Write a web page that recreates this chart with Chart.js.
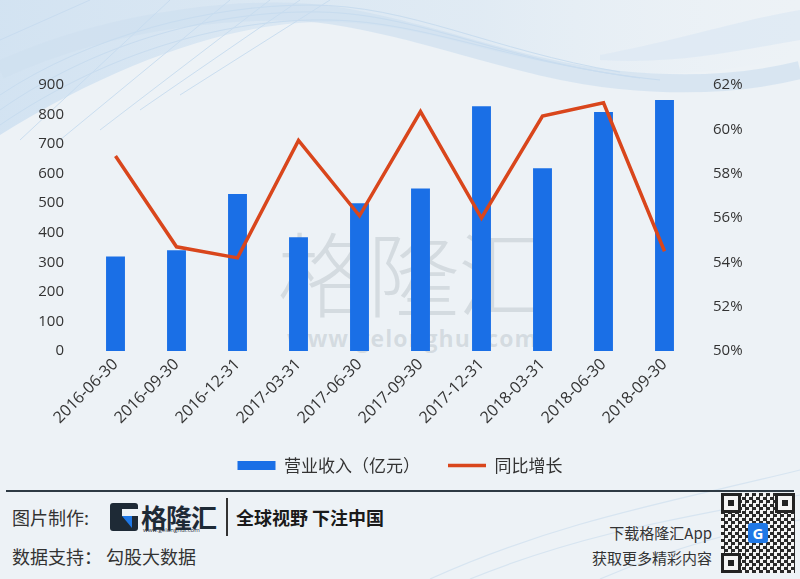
<!DOCTYPE html>
<html><head><meta charset="utf-8">
<script src="https://cdn.jsdelivr.net/npm/chart.js@4"></script>
<style>
html,body{margin:0;padding:0;}
body{width:800px;height:579px;position:relative;overflow:hidden;background:#edf2f6;font-family:"Noto Sans CJK SC","Noto Sans",sans-serif;}
#bg{position:absolute;left:0;top:0;}
#wrap{position:absolute;left:0;top:0;width:800px;height:484px;}
#wm{position:absolute;left:270px;top:216px;width:285px;text-align:center;pointer-events:none;color:rgba(140,150,160,0.25);}
#wm .big{font-size:92px;line-height:108px;font-weight:300;letter-spacing:-2px;font-family:"Noto Sans CJK SC";}
#wm .url{font-size:23px;line-height:24px;font-weight:700;font-family:"Open Sans";letter-spacing:1px;margin-top:2px;}
#sep{position:absolute;left:6px;top:490px;width:788px;height:2px;background:#2e3a44;}
.ft{position:absolute;color:#333;white-space:nowrap;font-family:"Noto Sans CJK SC";}
#logo{position:absolute;left:110px;top:503px;width:28px;height:28px;background:#1e2a36;border-radius:3px;}
#logo:after{content:"";position:absolute;left:12px;top:6px;width:16px;height:7px;background:#edf2f6;}
#logo:before{content:"";position:absolute;left:12px;top:13px;width:0;height:0;border-left:10px solid transparent;border-top:12px solid #1f78e6;}
#div{position:absolute;left:226px;top:498px;width:1.5px;height:38px;background:#333;}
#qr{position:absolute;left:721px;top:493px;width:74px;height:80px;
 background:repeating-conic-gradient(#2a2a2a 0 25%, #f4f4f4 0 50%) 0 0/7px 7px;}
.fd{position:absolute;width:14px;height:14px;border:3px solid #222;background:#f4f4f4;box-shadow:inset 0 0 0 3px #f4f4f4;}
.fd:after{content:"";position:absolute;left:4px;top:4px;width:6px;height:6px;background:#222;}
#qg{position:absolute;left:27px;top:30px;width:20px;height:20px;background:#1f78e6;border-radius:3px;color:#fff;font:bold 15px/20px "Open Sans";text-align:center;}
</style></head>
<body>
<svg id="bg" width="800" height="579" viewBox="0 0 800 579">
 <defs>
  <linearGradient id="g1" x1="0" y1="0" x2="1" y2="0">
   <stop offset="0" stop-color="#bcd6ee" stop-opacity="0.9"/>
   <stop offset="0.6" stop-color="#cfe1f1" stop-opacity="0.7"/>
   <stop offset="1" stop-color="#e3edf6" stop-opacity="0"/>
  </linearGradient>
 </defs>
 <path d="M0,0 L0,135 C120,60 240,20 330,22 C420,24 470,50 560,65 C650,80 720,75 800,55 L800,0 Z" fill="url(#g1)" opacity="0.6"/>
 <path d="M0,70 C120,15 260,5 330,15 C430,30 520,70 620,80 C700,88 760,80 800,70" fill="none" stroke="#cfe0f0" stroke-width="18" opacity="0.7"/>
 <g fill="none" stroke="#c7dcef" stroke-width="1" opacity="0.9">
  <path d="M0,110 C100,40 220,10 320,12 C420,14 500,60 640,78"/>
  <path d="M0,125 C110,50 230,18 330,20 C430,22 510,64 660,80"/>
  <path d="M0,95 C90,35 210,5 310,5 C410,5 490,50 620,72"/>
  <path d="M20,140 L170,0"/><path d="M60,140 L230,0"/><path d="M100,130 L270,0"/>
  <path d="M0,40 L90,0"/><path d="M140,110 L300,0"/><path d="M180,95 L330,0"/>
 </g>
 <path d="M600,55 C680,40 740,20 800,10 L800,40 C740,50 680,65 600,60 Z" fill="#dde9f4" opacity="0.8"/>
 <g fill="none" stroke="#d2e2f0" stroke-width="1.2" opacity="0.8">
  <path d="M430,579 C560,520 680,500 800,470"/><path d="M470,579 C590,530 700,515 800,495"/>
  <path d="M600,579 C680,545 740,530 800,520"/>
 </g>
</svg>
<div id="wm"><div class="big">格隆汇</div><div class="url">www.gelonghui.com</div></div>
<div id="wrap"><canvas id="c" width="800" height="484"></canvas></div>
<div id="sep"></div>
<div class="ft" style="left:12px;top:504px;font-size:18px;">图片制作:</div>
<div id="logo"></div>
<div class="ft" style="left:141px;top:498px;font-size:26px;font-weight:700;color:#1e2a36;letter-spacing:-1px;">格隆汇</div>
<div class="ft" style="left:143px;top:526px;font-size:6px;font-family:'Open Sans';color:#1e2a36;">www.gelonghui.com</div>
<div id="div"></div>
<div class="ft" style="left:236px;top:504px;font-size:18px;font-weight:700;color:#1a1a1a;">全球视野 下注中国</div>
<div class="ft" style="left:12px;top:543px;font-size:18px;">数据支持： 勾股大数据</div>
<div class="ft" style="right:88px;top:522px;font-size:15px;text-align:right;">下载格隆汇App</div>
<div class="ft" style="right:88px;top:547px;font-size:15px;text-align:right;">获取更多精彩内容</div>
<div id="qr"><div class="fd" style="left:0;top:0"></div><div class="fd" style="right:0;top:0"></div><div class="fd" style="left:0;bottom:0"></div><div id="qg">G</div></div>
<script>
const categories = ['2016-06-30','2016-09-30','2016-12-31','2017-03-31','2017-06-30','2017-09-30','2017-12-31','2018-03-31','2018-06-30','2018-09-30'];
const revenue = [320, 341, 531, 385, 500, 550, 828, 618, 809, 849];
const growth = [58.8, 54.7, 54.2, 59.5, 56.1, 60.8, 56.0, 60.6, 61.2, 54.5];
const revenueLabel = '营业收入（亿元）';
const growthLabel = '同比增长';

const tickFont = {family:'"Open Sans"', size:15};
new Chart(document.getElementById('c'), {
  type:'bar',
  data:{
    labels:categories,
    datasets:[
      {type:'bar', label:revenueLabel, data:revenue, backgroundColor:'#1a6fe6', borderWidth:0,
       yAxisID:'y', barPercentage:0.31, categoryPercentage:1, order:2, pointStyle:'rect'},
      {type:'line', label:growthLabel, data:growth, borderColor:'#d9461c', backgroundColor:'#d9461c',
       borderWidth:3.5, pointRadius:0, yAxisID:'y1', order:1, pointStyle:'line', tension:0}
    ]
  },
  options:{
    responsive:false, animation:false, devicePixelRatio:1,
    layout:{padding:{top:85, left:0, right:0, bottom:0}},
    plugins:{
      tooltip:{enabled:false},
      legend:{position:'bottom',
        labels:{usePointStyle:true, pointStyleWidth:38, boxWidth:38, boxHeight:9, padding:28, color:'#333',
          font:{family:'"Noto Sans CJK SC"', size:17},
          sort:(a,b)=>a.datasetIndex-b.datasetIndex}}
    },
    scales:{
      x:{grid:{display:false, drawTicks:false}, border:{display:false},
         ticks:{minRotation:45, maxRotation:45, color:'#333', padding:4, font:{family:'"Open Sans"', size:16}},
         afterFit(s){ s.height = 78; }},
      y:{position:'left', min:0, max:900, grid:{display:false, drawTicks:false}, border:{display:false},
         ticks:{stepSize:100, color:'#333', padding:21, font:tickFont},
         afterFit(s){ s.width = 85; }},
      y1:{position:'right', min:50, max:62, grid:{display:false, drawTicks:false}, border:{display:false},
         ticks:{stepSize:2, color:'#333', padding:18, font:tickFont, callback:v=>v+'%'},
         afterFit(s){ s.width = 105; }}
    }
  }
});
</script>
</body></html>
